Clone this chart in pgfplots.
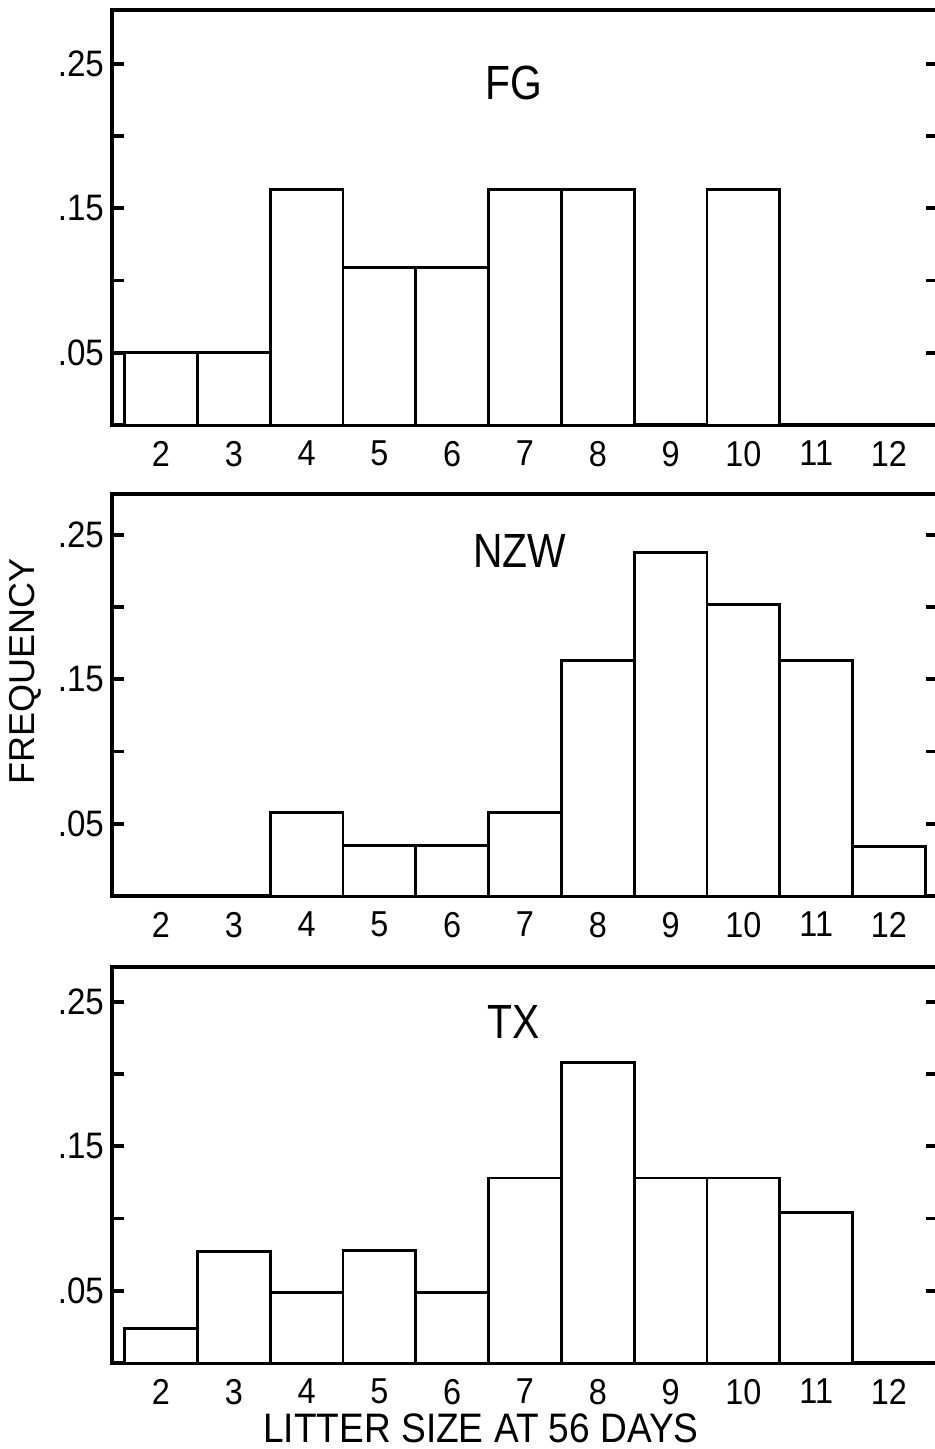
\documentclass[border=0pt]{standalone}
\usepackage{pgfplots}
\pgfplotsset{compat=1.18}
\usepackage{fontspec}
\setmainfont{Liberation Sans}
\newfontfamily\condfont{Liberation Sans}[FakeStretch=0.9]
\newfontfamily\titlefont{Liberation Sans}[FakeStretch=0.85]

% common look of the three histograms (1 px of the scan = 0.25pt)
\pgfplotsset{
  litter/.style={
    scale only axis,
    width=206.5pt,
    anchor=south west,
    xmin=1.327, xmax=12.673,
    ymin=0,
    axis line style={line width=1.1pt},
    xtick={2,3,4,5,6,7,8,9,10,11,12},
    xticklabels={2,3,4,5,6,7,8,9,10,11,12},
    xtick style={draw=none},
    xticklabel style={font=\condfont\fontsize{9}{10}\selectfont, yshift=-0.5pt},
    ytick={0.05,0.15,0.25},
    yticklabels={.05,.15,.25},
    minor ytick={0.1,0.2},
    ytick pos=both,
    yticklabel pos=left,
    tick align=inside,
    major tick length=3pt,
    minor tick length=3pt,
    ytick style={black, line width=0.9pt},
    yticklabel style={font=\condfont\fontsize{9.2}{10}\selectfont, xshift=1.5pt},
  },
  bars/.style={ybar, bar width=1, fill=white, draw=black, line width=0.7pt},
}

\begin{document}
\begin{tikzpicture}

% FG
\begin{axis}[litter, at={(28pt,-106.25pt)}, height=103.75pt, ymax=0.2872]
\addplot[bars] coordinates {
  (2,0.050) (3,0.050) (4,0.163) (5,0.109) (6,0.109) (7,0.163)
  (8,0.163) (9,0) (10,0.163) (11,0) (12,0)
};
\node[font=\titlefont\fontsize{12}{13}\selectfont] at (axis cs:6.85,0.237) {FG};
\end{axis}

% NZW
\begin{axis}[litter, at={(28pt,-224pt)}, height=100.5pt, ymax=0.2782]
\addplot[bars] coordinates {
  (2,0) (3,0) (4,0.058) (5,0.035) (6,0.035) (7,0.058)
  (8,0.163) (9,0.238) (10,0.202) (11,0.163) (12,0.034)
};
\node[font=\titlefont\fontsize{12}{13}\selectfont] at (axis cs:6.93,0.239) {NZW};
\end{axis}

% TX
\begin{axis}[litter, at={(28pt,-340.75pt)}, height=99pt, ymax=0.274]
\addplot[bars] coordinates {
  (2,0.024) (3,0.077) (4,0.049) (5,0.078) (6,0.049) (7,0.128)
  (8,0.208) (9,0.128) (10,0.128) (11,0.104) (12,0)
};
\node[font=\titlefont\fontsize{12}{13}\selectfont] at (axis cs:6.84,0.236) {TX};
\end{axis}

\node[rotate=90, font=\fontsize{9}{10}\selectfont] at (6.25pt,-167.75pt) {FREQUENCY};
\node[font=\condfont\fontsize{10.3}{12}\selectfont] at (120.25pt,-357pt) {LITTER SIZE AT 56 DAYS};

\pgfresetboundingbox
\useasboundingbox (0,0) rectangle (233.5pt,-362.25pt);
\end{tikzpicture}
\end{document}
